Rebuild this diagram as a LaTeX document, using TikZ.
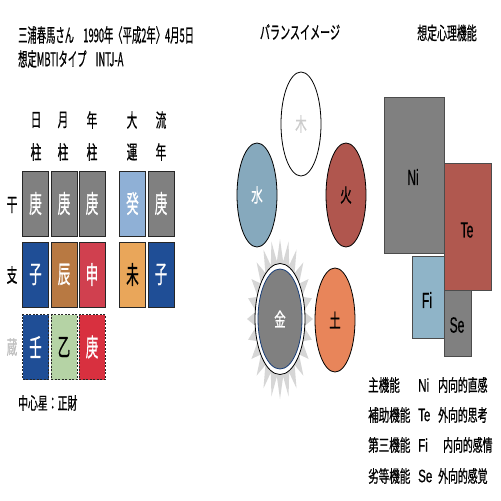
\documentclass[tikz,border=0pt]{standalone}
\usepackage{fontspec}
\usepackage{graphicx}
\usetikzlibrary{shapes.geometric}
\setmainfont{Noto Sans CJK JP}[FakeBold=0.9]
\newfontfamily\lat{Liberation Sans}[FakeBold=0.6]
\newcommand\nt[3]{{\fontsize{#1}{#1}\selectfont\scalebox{#2}[1]{#3}}}
\definecolor{cgray}{HTML}{808080}
\definecolor{cblue}{HTML}{1F4E96}
\definecolor{cbrown}{HTML}{B87942}
\definecolor{cred}{HTML}{D0404F}
\definecolor{clblue}{HTML}{8FB0D6}
\definecolor{corange}{HTML}{E9A65A}
\definecolor{cgreen}{HTML}{B5D3A5}
\definecolor{cred2}{HTML}{D8303F}
\definecolor{cwater}{HTML}{86A9BD}
\definecolor{cfire}{HTML}{B0564E}
\definecolor{cearth}{HTML}{E8855A}
\definecolor{cte}{HTML}{B0584F}
\definecolor{cfi}{HTML}{8FB4C8}
\begin{document}
\begin{tikzpicture}[x=1pt,y=-1pt,
  cell/.style={draw=black!85, line width=0.8pt, minimum width=26pt, minimum height=65pt, inner sep=0pt},
  hidcell/.style={cell, dashed, dash pattern=on 2pt off 1.5pt},
  txt/.style={inner sep=0pt},
  elem/.style={ellipse, draw=black, line width=0.8pt, minimum width=40pt, minimum height=104pt, inner sep=0pt},
  fbox/.style={draw=black!70, line width=0.6pt}]
\useasboundingbox (0,0) rectangle (501,501);
\fill[white] (0,0) rectangle (501,501);

% titles
\node[txt, anchor=west] (t1) at (18,35) {\nt{19}{0.49}{三浦春馬さん\quad 1990年〈平成2年〉4月5日}};
\node[txt, anchor=west] (t2) at (18,59) {\nt{19}{0.49}{想定MBTIタイプ\quad INTJ-A}};
\node[txt] (t3) at (300,32) {\nt{18}{0.56}{バランスイメージ}};
\node[txt] (t4) at (447,33) {\nt{18}{0.55}{想定心理機能}};

% headers
\foreach \n/\x/\a/\b in {h1/36/日/柱, h2/63/月/柱, h3/92/年/柱, h4/132/大/運, h5/161/流/年}{
  \node[txt] (\n a) at (\x,120) {\nt{19}{0.56}{\a}};
  \node[txt] (\n b) at (\x,152) {\nt{19}{0.56}{\b}};
}
\node[txt] (rk) at (12,205) {\nt{19}{0.56}{干}};
\node[txt] (rs) at (12,275) {\nt{19}{0.56}{支}};
\node[txt, text=black!25] (rz) at (12,347) {\nt{19}{0.56}{蔵}};

% cells
\foreach \n/\x/\y/\c/\t/\k in {
  k1/35.5/203.5/cgray/庚/white, k2/64/203.5/cgray/庚/white, k3/92/203.5/cgray/庚/white,
  k4/132.5/203.5/clblue/癸/white, k5/161/203.5/cgray/庚/white,
  s1/35.5/274.5/cblue/子/white, s2/64/274.5/cbrown/辰/white, s3/92/274.5/cred/申/white,
  s4/132.5/274.5/corange/未/black, s5/161/274.5/cblue/子/white}{
  \node[cell, fill=\c, text=\k] (\n) at (\x,\y) {\nt{25}{0.5}{\t}};
}
\foreach \n/\x/\c/\t/\k in {z1/35.5/cblue/壬/white, z2/64/cgreen/乙/black, z3/92/cred2/庚/white}{
  \node[hidcell, fill=\c, text=\k] (\n) at (\x,347) {\nt{25}{0.5}{\t}};
}
\node[txt, anchor=west] (cs) at (18,403) {\nt{17}{0.58}{中心星：正財}};

% balance
\fill[black!16] (313,319) \foreach \i in {1,...,47}{
  -- ({280+ifthenelse(mod(\i,2)==0,33,24)*cos(7.5*\i)},{319+ifthenelse(mod(\i,2)==0,80,58)*sin(7.5*\i)})} -- cycle;
\node[elem, fill=white, text=black!20] (wood) at (301,124) {\nt{19}{0.6}{木}};
\node[elem, fill=cwater, text=white] (water) at (257,195) {\nt{19}{0.6}{水}};
\node[elem, fill=cfire, text=black] (fire) at (346,195) {\nt{19}{0.6}{火}};
\node[elem, fill=white, minimum width=50pt, minimum height=111pt] (metalo) at (280,319) {};
\node[ellipse, draw=cblue!80!black, line width=0.8pt, fill=cgray, minimum width=44pt, minimum height=100pt, inner sep=0pt, text=white] (metal) at (280,319) {\nt{19}{0.6}{金}};
\node[elem, fill=cearth, text=black] (earth) at (335,320) {\nt{19}{0.6}{土}};

% functions
\draw[fbox, fill=cgray] (384,97) rectangle (444,253);
\draw[fbox, fill=cte] (444,163) rectangle (491,290);
\draw[fbox, fill=cfi] (412,256) rectangle (444,338);
\draw[fbox, fill=cgray] (444,290) rectangle (471,356);
\node[txt] (ni) at (413,177) {\lat\nt{22}{0.55}{Ni}};
\node[txt] (te) at (467,230) {\lat\nt{22}{0.55}{Te}};
\node[txt] (fi) at (427,300) {\lat\nt{22}{0.55}{Fi}};
\node[txt] (se) at (457,325) {\lat\nt{22}{0.55}{Se}};

% legend
\foreach \n/\y/\a/\b/\c/\xc in {l1/385/主機能/Ni/内向的直感/438, l2/415/補助機能/Te/外向的思考/438, l3/445/第三機能/Fi/内向的感情/443, l4/476/劣等機能/Se/外向的感覚/438}{
  \node[txt, anchor=west] (\n a) at (368,\y) {\nt{17}{0.62}{\a}};
  \node[txt, anchor=west] (\n b) at (418,\y) {\lat\nt{18}{0.64}{\b}};
  \node[txt, anchor=west] (\n c) at (\xc,\y) {\nt{17}{0.58}{\c}};
}
\end{tikzpicture}
\end{document}
